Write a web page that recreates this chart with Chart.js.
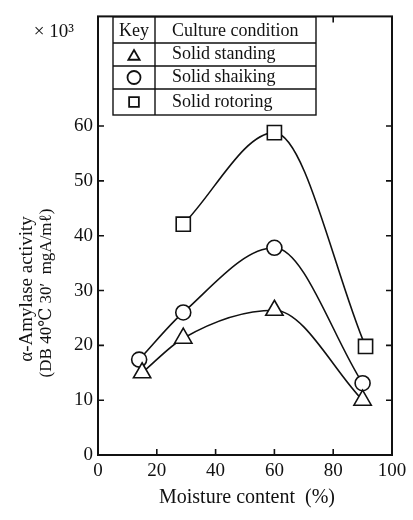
<!DOCTYPE html>
<html lang="en">
<head>
  <meta charset="UTF-8">
  <title>alpha-Amylase activity vs moisture content</title>
  <style>
    html, body { margin: 0; padding: 0; background: #fff; }
    .chart-container { width: 413px; height: 520px; position: relative; }
  </style>
</head>
<body>
  <div class="chart-container">
    <canvas id="amylaseChart"></canvas>
  </div>

  <script src="https://cdn.jsdelivr.net/npm/chart.js"></script>
  <script>
    // moisture content (%)
    const moistureStanding = [15, 29, 60, 90];
    const moistureShaking = [14, 29, 60, 90];
    const moistureRotoring = [29, 60, 91];
    // activity, x10^3
    const standing = [15, 21.3, 26.4, 10];
    const shaking = [17.4, 26, 37.8, 13.1];
    const rotoring = [42.1, 58.8, 19.8];

    const seriesNames = ['Solid standing', 'Solid shaiking', 'Solid rotoring'];
    const yTicks = [0, 10, 20, 30, 40, 50, 60];
    const xTicks = [0, 20, 40, 60, 80, 100];

    const serif = '"Liberation Serif", "DejaVu Serif", serif';

    const toPoints = (xs, ys) => xs.map((x, i) => ({ x: x, y: ys[i] }));

    const radiusFor = (style) => style === 'circle' ? 7.5 : 10;

    const makeDataset = (label, xs, ys, style) => ({
      label: label,
      data: toPoints(xs, ys),
      borderColor: '#111',
      borderWidth: 1.6,
      cubicInterpolationMode: 'monotone',
      pointStyle: style,
      pointRadius: radiusFor(style),
      pointBackgroundColor: '#fff',
      pointBorderColor: '#111',
      pointBorderWidth: 1.6,
      fill: false
    });

    function drawMarker(c, style, x, y, r) {
      c.beginPath();
      if (style === 'triangle') {
        c.moveTo(x, y - r);
        c.lineTo(x + r * 0.87, y + r * 0.5);
        c.lineTo(x - r * 0.87, y + r * 0.5);
        c.closePath();
      } else if (style === 'circle') {
        c.arc(x, y, r, 0, Math.PI * 2);
      } else {
        c.rect(x - r * 0.75, y - r * 0.75, r * 1.5, r * 1.5);
      }
      c.fillStyle = '#fff';
      c.fill();
      c.lineWidth = 1.8;
      c.strokeStyle = '#111';
      c.stroke();
    }

    // frame, inward ticks, titles and the key table
    const decorations = {
      id: 'decorations',
      afterDraw(chart) {
        const c = chart.ctx;
        const a = chart.chartArea;
        const xs = chart.scales.x, ys = chart.scales.y;
        c.save();
        c.strokeStyle = '#111';
        c.lineWidth = 2;
        c.strokeRect(a.left, a.top, a.right - a.left, a.bottom - a.top);

        c.lineWidth = 1.6;
        c.beginPath();
        yTicks.slice(1).forEach(v => {
          const y = ys.getPixelForValue(v);
          c.moveTo(a.left, y); c.lineTo(a.left + 6, y);
          c.moveTo(a.right, y); c.lineTo(a.right - 6, y);
        });
        xTicks.slice(1, -1).forEach(v => {
          const x = xs.getPixelForValue(v);
          c.moveTo(x, a.bottom); c.lineTo(x, a.bottom - 6);
          c.moveTo(x, a.top); c.lineTo(x, a.top + 6);
        });
        c.stroke();

        c.fillStyle = '#111';
        c.font = '19px ' + serif;
        c.textAlign = 'right';
        c.textBaseline = 'middle';
        c.fillText('\u00d7 10\u00b3', 74, 32);

        c.textAlign = 'center';
        c.font = '20px ' + serif;
        c.fillText('Moisture content  (%)', 247, 498);

        c.save();
        c.translate(27, 289);
        c.rotate(-Math.PI / 2);
        c.font = '19px ' + serif;
        c.fillText('\u03b1-Amylase activity', 0, 0);
        c.translate(-4, 20);
        c.font = '17px ' + serif;
        c.fillText('(DB 40\u2103 30\u2032  mgA/m\u2113)', 0, 0);
        c.restore();

        // key table
        const L = 113, R = 316, C = 155;
        const rows = [17, 43, 66, 89, 115];
        c.fillStyle = '#fff';
        c.fillRect(L, rows[0], R - L, rows[4] - rows[0]);
        c.lineWidth = 1.4;
        c.strokeStyle = '#111';
        c.strokeRect(L, rows[0], R - L, rows[4] - rows[0]);
        c.beginPath();
        rows.slice(1, 4).forEach(y => { c.moveTo(L, y); c.lineTo(R, y); });
        c.moveTo(C, rows[0]); c.lineTo(C, rows[4]);
        c.stroke();

        c.fillStyle = '#111';
        c.font = '18px ' + serif;
        c.textBaseline = 'middle';
        c.textAlign = 'center';
        c.fillText('Key', (L + C) / 2, (rows[0] + rows[1]) / 2 + 1);
        c.textAlign = 'left';
        c.fillText('Culture condition', 172, (rows[0] + rows[1]) / 2 + 1);
        chart.data.datasets.forEach((ds, i) => {
          const cy = (rows[i + 1] + rows[i + 2]) / 2;
          drawMarker(c, ds.pointStyle, (L + C) / 2, cy + (ds.pointStyle === 'triangle' ? 2 : 0), 6.5);
          c.fillStyle = '#111';
          c.fillText(seriesNames[i], 172, cy);
        });
        c.restore();
      }
    };

    const ctx = document.getElementById('amylaseChart').getContext('2d');

    new Chart(ctx, {
      type: 'line',
      data: {
        datasets: [
          makeDataset(seriesNames[0], moistureStanding, standing, 'triangle'),
          makeDataset(seriesNames[1], moistureShaking, shaking, 'circle'),
          makeDataset(seriesNames[2], moistureRotoring, rotoring, 'rect')
        ]
      },
      options: {
        responsive: true,
        maintainAspectRatio: false,
        animation: false,
        layout: { padding: { left: 0, right: 21, top: 7, bottom: 0 } },
        plugins: {
          legend: { display: false },
          tooltip: { enabled: false }
        },
        scales: {
          x: {
            type: 'linear',
            min: 0,
            max: 100,
            afterBuildTicks: (s) => { s.ticks = xTicks.map(v => ({ value: v })); },
            afterFit: (s) => { s.height = 65; },
            grid: { display: false, drawTicks: false },
            border: { display: false },
            ticks: { color: '#111', padding: 5, maxRotation: 0, font: { family: serif, size: 19 } }
          },
          y: {
            min: 0,
            max: 80,
            afterBuildTicks: (s) => { s.ticks = yTicks.map(v => ({ value: v })); },
            afterFit: (s) => { s.width = 98; },
            grid: { display: false, drawTicks: false },
            border: { display: false },
            ticks: { color: '#111', padding: 5, font: { family: serif, size: 19 } }
          }
        }
      },
      plugins: [decorations]
    });
  </script>
</body>
</html>
